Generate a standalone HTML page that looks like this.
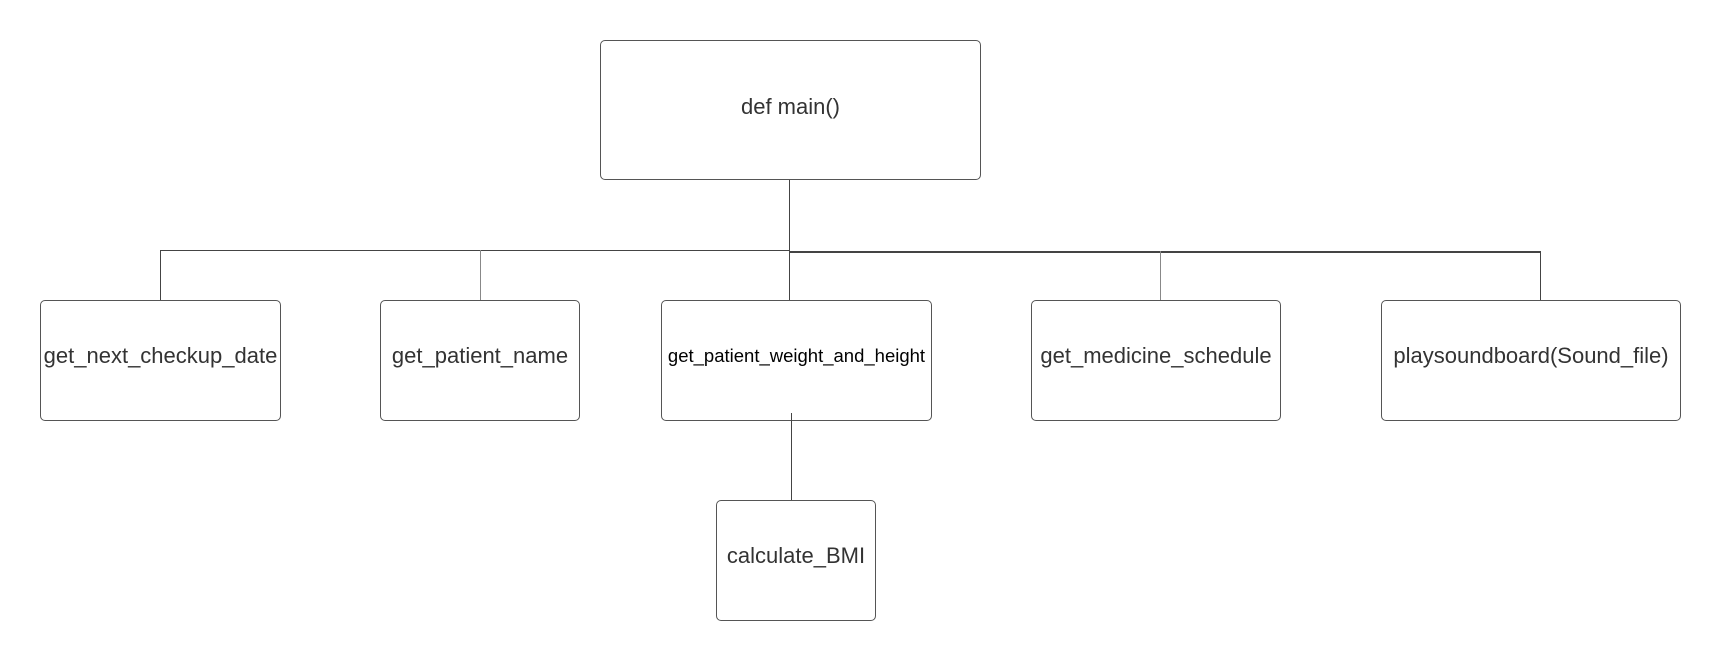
<!DOCTYPE html>
<html><head><style>
body{margin:0;width:1720px;height:660px;background:#fff;overflow:hidden;position:relative;font-family:"Liberation Sans",Arial,sans-serif}
.b{position:absolute;border:1.3px solid #555;border-radius:5px;box-sizing:border-box;display:flex;align-items:center;justify-content:center;color:#333;font-size:22px;white-space:nowrap;padding-bottom:9px}
.l{position:absolute;background:#444}
</style></head><body>
<div class="b" style="left:600px;top:40px;width:381px;height:140px;padding-bottom:6px;">def main()</div>
<div class="l" style="left:789px;top:180px;width:1px;height:120px"></div>
<div class="l" style="left:160px;top:250px;width:630px;height:1px"></div>
<div class="l" style="left:789px;top:251px;width:752px;height:1.5px"></div>
<div class="l" style="left:160px;top:250px;width:1px;height:50px"></div>
<div class="l" style="left:480px;top:250px;width:1px;height:50px;background:#888"></div>
<div class="l" style="left:1160px;top:251px;width:1px;height:49px;background:#888"></div>
<div class="l" style="left:1540px;top:251px;width:1px;height:49px"></div>
<div class="b" style="left:40px;top:300px;width:241px;height:121px;">get_next_checkup_date</div>
<div class="b" style="left:380px;top:300px;width:200px;height:121px;">get_patient_name</div>
<div class="b" style="left:661px;top:300px;width:271px;height:121px;font-size:18.5px;color:#000">get_patient_weight_and_height</div>
<div class="b" style="left:1031px;top:300px;width:250px;height:121px;">get_medicine_schedule</div>
<div class="b" style="left:1381px;top:300px;width:300px;height:121px;">playsoundboard(Sound_file)</div>
<div class="l" style="left:791px;top:413px;width:1px;height:88px"></div>
<div class="b" style="left:716px;top:500px;width:160px;height:121px;">calculate_BMI</div>
</body></html>
